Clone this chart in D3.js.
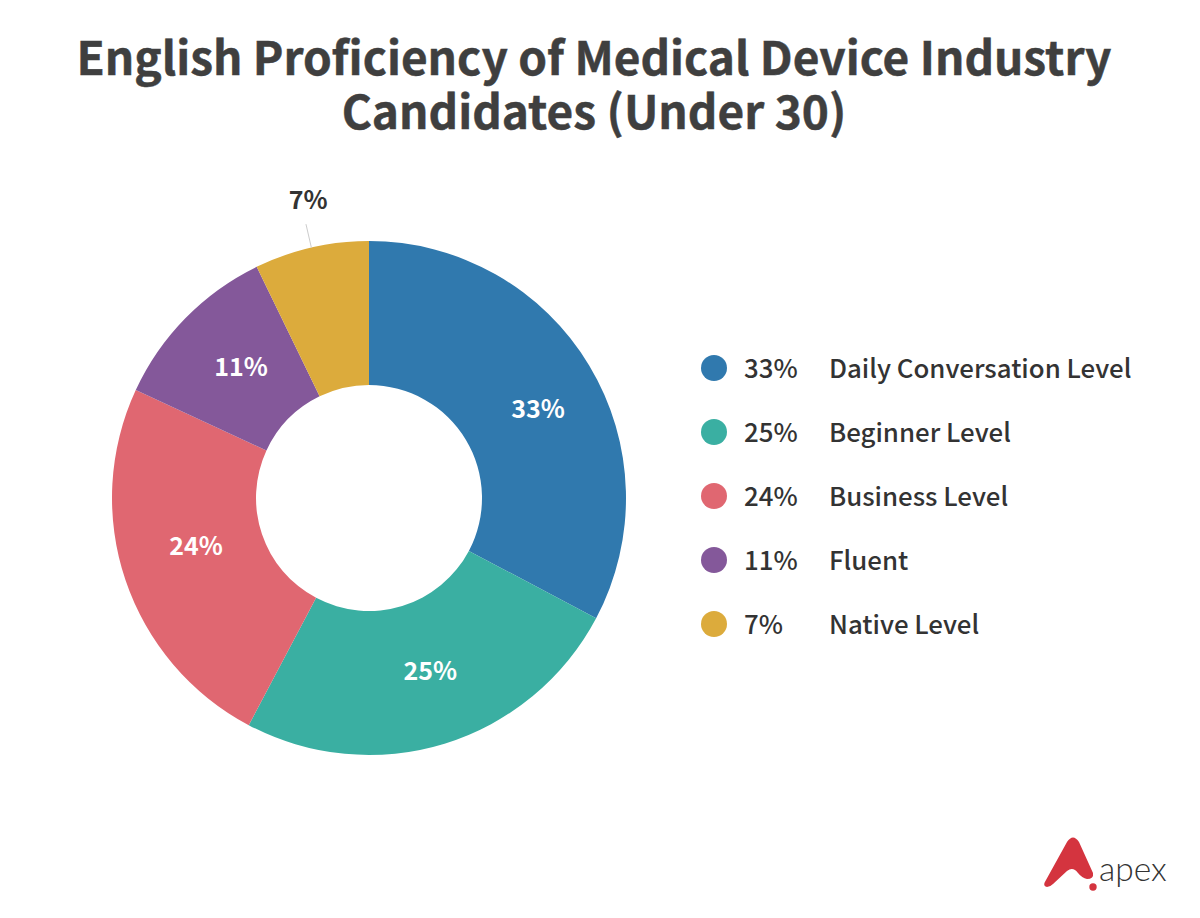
<!DOCTYPE html>
<html>
<head>
    <meta charset="utf-8">
    <title>English Proficiency of Medical Device Industry Candidates (Under 30)</title>
    <script src="https://cdn.jsdelivr.net/npm/d3@7"></script>
    <style>
        html, body { margin: 0; padding: 0; background: #fff; }
        svg { display: block; }
        text { font-family: "Noto Sans CJK JP", "Noto Sans", sans-serif; }
    </style>
</head>
<body>
<div id="chart"></div>
<script>
    var categories = ['Daily Conversation Level', 'Beginner Level', 'Business Level', 'Fluent', 'Native Level'];
    // read from the slice edges, the labels show them rounded
    var shares = [32.75, 25, 24.15, 10.9, 7.2];
    var colors = ['#3079ae', '#3aafa2', '#e06771', '#84589a', '#dcab3c'];
    var titleLines = ['English Proficiency of Medical Device Industry', 'Candidates (Under 30)'];
    // hand placed label offsets from the arc centroid, in slice order
    var labelNudge = [[10.5, 6.4], [7, -4], [2.4, -10.7], [4, -1.5], [6.5, -5.7]];

    var pct = v => Math.round(v) + '%';

    var svg = d3.select('#chart').append('svg')
        .attr('width', 1200)
        .attr('height', 918);

    // title
    svg.append('text')
        .attr('text-anchor', 'middle')
        .attr('font-size', 46)
        .attr('font-weight', 700)
        .attr('fill', '#3f3f3f')
        .attr('stroke', '#3f3f3f')
        .attr('stroke-width', 0.5)
        .selectAll('tspan')
        .data(titleLines)
        .join('tspan')
        .attr('x', 594)
        .attr('y', (d, i) => 75 + i * 54)
        .text(d => d);

    // donut
    var pie = d3.pie().sort(null)(shares);
    pie.forEach((d, i) => { d.nudge = labelNudge[i]; });
    var arc = d3.arc().innerRadius(113).outerRadius(257);
    var labelArc = d3.arc().innerRadius(185).outerRadius(185);

    var g = svg.append('g').attr('transform', 'translate(369,498)');

    g.selectAll('path')
        .data(pie)
        .join('path')
        .attr('d', arc)
        .attr('fill', (d, i) => colors[i]);

    // the small slice keeps its label outside, with a leader line
    var inside = pie.filter(d => d.data >= 10);
    var outside = pie.filter(d => d.data < 10);

    function placeLabel(a, d) {
        var c = a.centroid(d);
        return `translate(${c[0] + d.nudge[0]},${c[1] + d.nudge[1]})`;
    }

    g.selectAll('text.inner')
        .data(inside)
        .join('text')
        .attr('class', 'inner')
        .attr('transform', d => placeLabel(labelArc, d))
        .attr('dy', '0.36em')
        .attr('text-anchor', 'middle')
        .attr('font-size', 25)
        .attr('font-weight', 700)
        .attr('fill', '#fff')
        .text(d => pct(d.data));

    var leaderStart = d3.arc().innerRadius(257).outerRadius(257);
    var leaderEnd = d3.arc().innerRadius(281).outerRadius(281);
    var outerText = d3.arc().innerRadius(300).outerRadius(300);

    g.selectAll('line.leader')
        .data(outside)
        .join('line')
        .attr('class', 'leader')
        .attr('x1', d => leaderStart.centroid(d)[0])
        .attr('y1', d => leaderStart.centroid(d)[1])
        .attr('x2', d => leaderEnd.centroid(d)[0])
        .attr('y2', d => leaderEnd.centroid(d)[1])
        .attr('stroke', '#cccccc')
        .attr('stroke-width', 1);

    g.selectAll('text.outer')
        .data(outside)
        .join('text')
        .attr('class', 'outer')
        .attr('transform', d => placeLabel(outerText, d))
        .attr('dy', '0.36em')
        .attr('text-anchor', 'middle')
        .attr('font-size', 25)
        .attr('font-weight', 700)
        .attr('fill', '#333')
        .text(d => pct(d.data));

    // legend
    var legendY = d3.scalePoint().domain(categories).range([368, 624]);

    var rows = svg.selectAll('g.row')
        .data(categories)
        .join('g')
        .attr('class', 'row')
        .attr('transform', d => `translate(0,${legendY(d)})`);

    rows.append('circle')
        .attr('cx', 714)
        .attr('cy', 0)
        .attr('r', 13)
        .attr('fill', (d, i) => colors[i]);

    rows.append('text')
        .attr('x', 744)
        .attr('dy', '0.4em')
        .attr('font-size', 25.8)
        .attr('font-weight', 500)
        .attr('fill', '#333')
        .text((d, i) => pct(shares[i]));

    rows.append('text')
        .attr('x', 829)
        .attr('dy', '0.4em')
        .attr('font-size', 25.8)
        .attr('font-weight', 500)
        .attr('fill', '#333')
        .text(d => d);

    // logo
    var logo = svg.append('g').attr('transform', 'translate(1020,820)');
    logo.append('path')
        .attr('d', 'M27,67 Q22,66 26,60 L47,22 Q53,13 59,22 L73,53 Q74,59 67,59 Q62,58 58,53 Q53,46 47,51 L33,64 Q30,67 27,67 Z')
        .attr('fill', '#d4343f');
    logo.append('circle')
        .attr('cx', 73)
        .attr('cy', 67)
        .attr('r', 3.7)
        .attr('fill', '#d4343f');
    logo.append('text')
        .attr('x', 79)
        .attr('y', 61)
        .attr('font-size', 33.5)
        .style('font-family', 'Lato, sans-serif')
        .attr('font-weight', 300)
        .attr('fill', '#333')
        .text('apex');
</script>
</body>
</html>
